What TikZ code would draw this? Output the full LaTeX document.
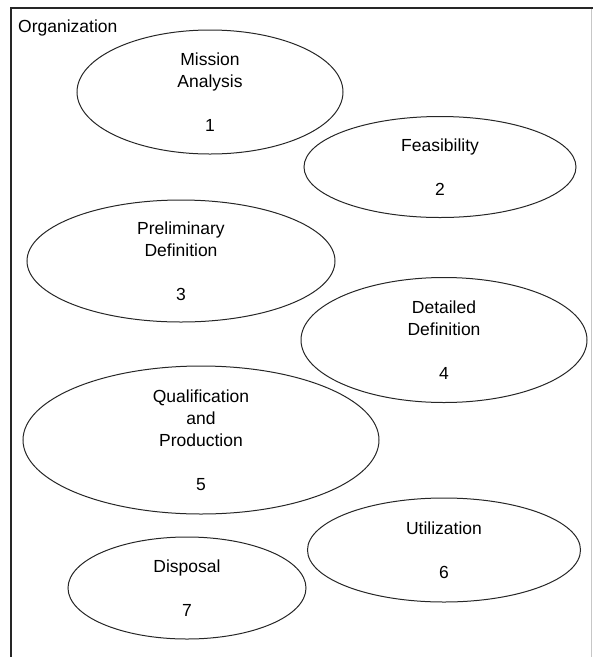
\documentclass[tikz,border=0pt]{standalone}
\usepackage{fontspec}
\setmainfont{Liberation Sans}
\usetikzlibrary{shapes.geometric}
\colorlet{lcline}{black!85}
\colorlet{lcfaint}{black!22}
\newcommand{\lcfont}{\fontsize{17.5}{22}\selectfont}
\tikzset{
  lcphase/.style={
    ellipse,
    draw=lcline,
    line width=1pt,
    inner sep=0pt,
    align=center,
    font=\lcfont
  },
  lcframe/.style={line width=1.6pt,draw=lcline},
  lcside/.style={line width=1pt,draw=lcfaint},
  lctitle/.style={font=\lcfont,anchor=west,inner sep=0pt}
}

\begin{document}
\begin{tikzpicture}[x=1pt,y=-1pt]
  \useasboundingbox (0,0) rectangle (593,657);
  \coordinate (ftl) at (11,8);
  \coordinate (ftr) at (593,8);
  \coordinate (fbl) at (11,657);
  \coordinate (srt) at (591,9);
  \coordinate (srb) at (591,657);
  \draw[lcframe] (ftr) -- (ftl) -- (fbl);
  \draw[lcside] (srt) -- (srb);

  \node[lctitle] (org) at (18,28) {Organization};

  \node[lcphase,minimum width=266pt,minimum height=124pt] (mis) at (210,92)
    {Mission\\Analysis\\[22pt]1};
  \node[lcphase,minimum width=272pt,minimum height=101pt] (fea) at (440,167)
    {Feasibility\\[22pt]2};
  \node[lcphase,minimum width=308pt,minimum height=122pt] (pre) at (181,261)
    {Preliminary\\Definition\\[22pt]3};
  \node[lcphase,minimum width=286pt,minimum height=125pt] (det) at (444,340)
    {Detailed\\Definition\\[22pt]4};
  \node[lcphase,minimum width=356pt,minimum height=148pt] (qua) at (201,440)
    {Qualification\\and\\Production\\[22pt]5};
  \node[lcphase,minimum width=273pt,minimum height=104pt] (uti) at (444,550)
    {Utilization\\[22pt]6};
  \node[lcphase,minimum width=238pt,minimum height=102pt] (dis) at (187,588)
    {Disposal\\[22pt]7};
\end{tikzpicture}
\end{document}
